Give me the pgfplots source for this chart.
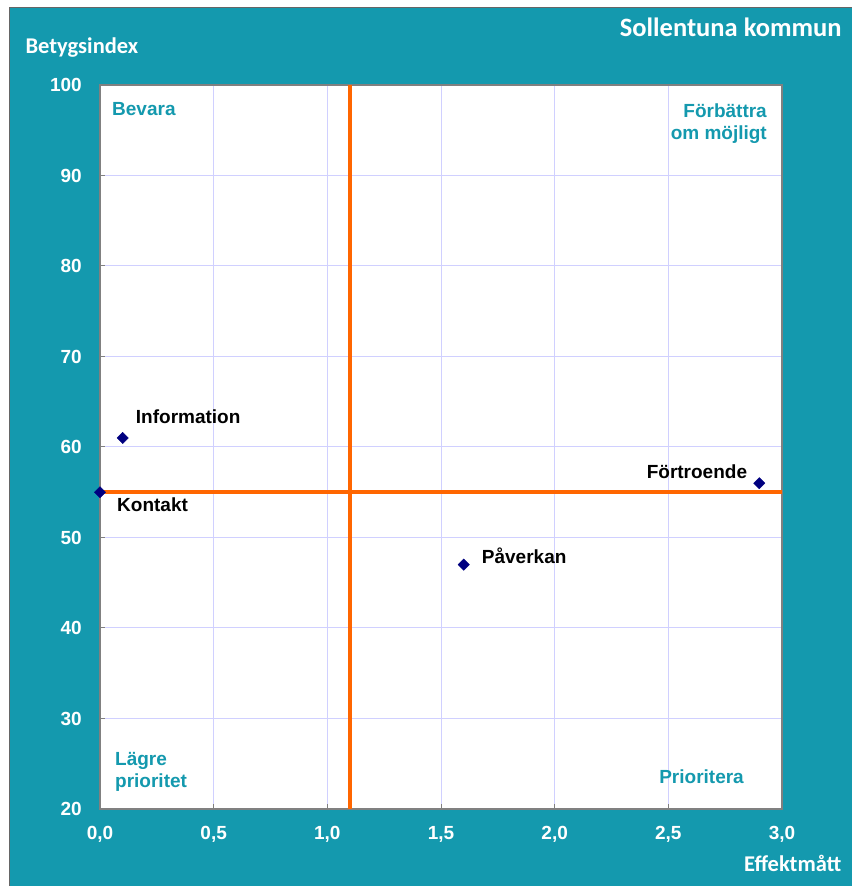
\documentclass[border=0pt]{standalone}
\usepackage{pgfplots}
\usepackage{pgfplotstable}
\pgfplotsset{compat=1.18}
\usepackage{fontspec}
\setmainfont{Liberation Sans}
\newfontfamily\calibri{Carlito}

\definecolor{tealbg}{RGB}{20,153,174}
\definecolor{navypt}{RGB}{0,0,128}
\definecolor{quadline}{RGB}{255,102,0}
\definecolor{gridc}{RGB}{208,208,255}

% effekt, index, label, anchor angle (180 = west, 0 = east), shifts in pt
\pgfplotstableread{
x   y   label       anc  dx   dy
0.1 61  Information 180  13   21
0.0 55  Kontakt     180  17  -12
1.6 47  Påverkan    180  18    9
2.9 56  Förtroende  0   -12   11
}\punkter

\begin{document}
\begin{tikzpicture}
  \useasboundingbox (-100pt,-77pt) rectangle (752pt,809pt);
  \fill[tealbg] (-90pt,-77pt) rectangle (752pt,801pt);
  \draw[black!60, line width=1pt] (-90pt,-77pt) -- (-90pt,801pt) -- (752pt,801pt);

  \node[anchor=base west, text=white, font=\calibri\bfseries\fontsize{22.5}{27}\selectfont]
    at (-78pt,755pt) {Betygsindex};
  \node[anchor=base east, text=white, font=\calibri\bfseries\fontsize{26.5}{31}\selectfont]
    at (745pt,772pt) {Sollentuna kommun};
  \node[anchor=base east, text=white, font=\calibri\bfseries\fontsize{22.5}{27}\selectfont]
    at (745pt,-62pt) {Effektmått};

  \begin{axis}[
      scale only axis,
      width=682pt, height=724pt,
      xmin=0, xmax=3, ymin=20, ymax=100,
      xtick={0,0.5,...,3},
      ytick={20,30,...,100},
      xtick pos=left, ytick pos=left,
      tick align=inside,
      major tick length=5pt,
      tick style={black!50, line width=1pt},
      grid=major,
      major grid style={gridc, line width=1pt},
      axis line style={draw=black!50, line width=1.5pt},
      axis background/.style={fill=white},
      /pgf/number format/assume math mode=true,
      x tick label style={/pgf/number format/fixed, /pgf/number format/fixed zerofill,
        /pgf/number format/precision=1, /pgf/number format/use comma},
      y tick label style={/pgf/number format/fixed, /pgf/number format/precision=0},
      ticklabel style={font=\bfseries\fontsize{19}{22}\selectfont, text=white},
      xticklabel style={anchor=north, inner sep=0pt, yshift=-17pt},
      yticklabel style={anchor=east, inner sep=0pt, xshift=-18pt},
      clip=false,
    ]

    % kvadrantlinjer
    \addplot[quadline, line width=4pt] coordinates {(1.1,20) (1.1,100)};
    \addplot[quadline, line width=4pt] coordinates {(0,55) (3,55)};

    \addplot[
      only marks,
      mark=square*,
      mark size=4pt,
      mark options={rotate=45, fill=navypt, draw=navypt},
      point meta=explicit symbolic,
      visualization depends on={\thisrow{anc} \as \anc},
      visualization depends on={\thisrow{dx} \as \dx},
      visualization depends on={\thisrow{dy} \as \dy},
      nodes near coords,
      nodes near coords style={anchor=\anc, xshift=\dx, yshift=\dy,
        inner sep=0pt, text=black, font=\bfseries\fontsize{19}{22}\selectfont},
    ] table[x=x, y=y, meta=label] {\punkter};

    % kvadrantnamn
    \node[anchor=base west, inner sep=0pt, text=tealbg, font=\bfseries\fontsize{19}{22}\selectfont]
      at (rel axis cs:0,1) [xshift=12pt, yshift=-31pt] {Bevara};
    \node[anchor=north east, inner sep=0pt, align=right, text=tealbg, font=\bfseries\fontsize{19}{22}\selectfont]
      at (rel axis cs:1,1) [xshift=-15pt, yshift=-19pt] {Förbättra\\om möjligt};
    \node[anchor=south west, inner sep=0pt, align=left, text=tealbg, font=\bfseries\fontsize{19}{22}\selectfont]
      at (rel axis cs:0,0) [xshift=15pt, yshift=17pt] {Lägre\\prioritet};
    \node[anchor=base east, inner sep=0pt, text=tealbg, font=\bfseries\fontsize{19}{22}\selectfont]
      at (rel axis cs:1,0) [xshift=-38pt, yshift=26pt] {Prioritera};
  \end{axis}
\end{tikzpicture}
\end{document}
